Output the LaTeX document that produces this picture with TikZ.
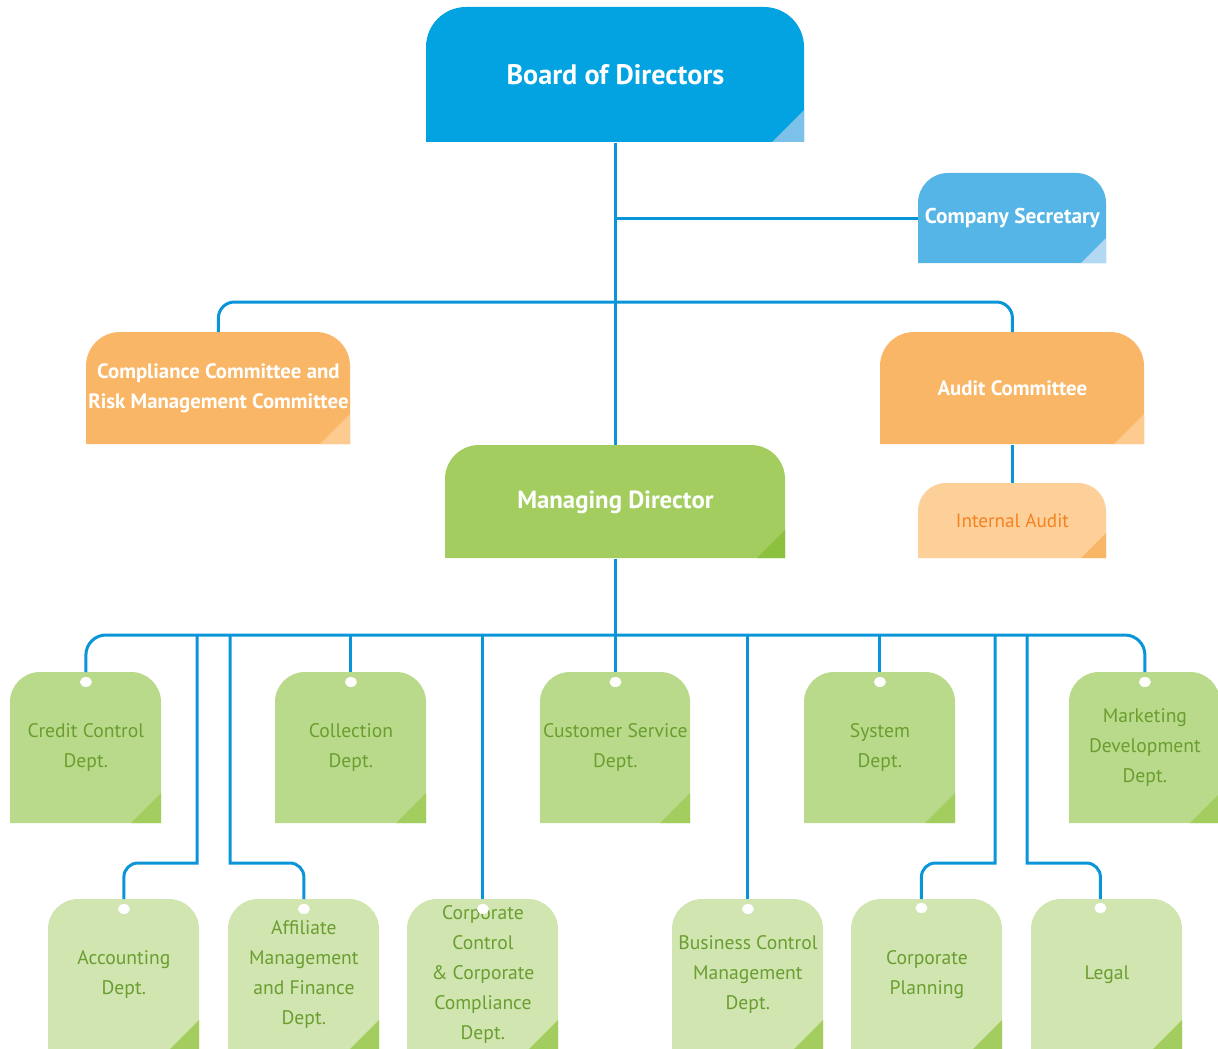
\documentclass[tikz,border=0pt]{standalone}
\usepackage{fontspec}
\setmainfont{PT Sans}
\usetikzlibrary{calc}
\definecolor{cBoard}{HTML}{02A3E0}
\definecolor{cBoardF}{HTML}{7CC1EA}
\definecolor{cSec}{HTML}{55B5E6}
\definecolor{cSecF}{HTML}{B3D8F2}
\definecolor{cOr}{HTML}{F9B666}
\definecolor{cOrF}{HTML}{FDCB8F}
\definecolor{cIA}{HTML}{FDD09A}
\definecolor{cIAT}{HTML}{F58220}
\definecolor{cMD}{HTML}{A3CD5F}
\definecolor{cMDF}{HTML}{8CC03F}
\definecolor{cD1}{HTML}{B9DA8A}
\definecolor{cD2}{HTML}{D0E5B0}
\definecolor{cDF}{HTML}{A3CD5F}
\definecolor{cDT}{HTML}{6A9E30}
\definecolor{cConn}{HTML}{0A95D9}
\tikzset{
  bfill/.store in=\bfill, bfold/.store in=\bfold,
  brad/.store in=\brad, bfs/.store in=\bfs,
  boardst/.style={bfill=cBoard, bfold=cBoardF, brad=20pt, bfs=32, text=white, font=\bfseries\fontsize{14.1}{16}\selectfont},
  secst/.style={bfill=cSec, bfold=cSecF, brad=15pt, bfs=25, text=white, font=\bfseries\fontsize{10.7}{14}\selectfont},
  orst/.style={bfill=cOr, bfold=cOrF, brad=17pt, bfs=30, text=white, font=\bfseries\fontsize{10.4}{14.8}\selectfont},
  mdst/.style={bfill=cMD, bfold=cMDF, brad=17pt, bfs=28, text=white, font=\bfseries\fontsize{12.4}{15}\selectfont},
  iast/.style={bfill=cIA, bfold=cOr, brad=14pt, bfs=25, text=cIAT, font=\fontsize{9.6}{14}\selectfont},
  dAst/.style={bfill=cD1, bfold=cDF, brad=15pt, bfs=30, text=cDT, font=\fontsize{9.8}{15}\selectfont},
  dBst/.style={bfill=cD2, bfold=cDF, brad=15pt, bfs=30, text=cDT, font=\fontsize{9.8}{15}\selectfont},
  conn/.style={draw=cConn, line width=1.5pt},
  hole/.style={fill=white},
}
\newcommand\obox[7]{%
  \begin{scope}[#1]
    \pgfmathsetmacro\bw{(#5-#3)*0.5}%
    \pgfmathsetmacro\bh{(#6-#4)*0.5}%
    \fill[fill=\bfill] (#3,#6) [rounded corners=\brad] -- (#3,#4) -- (#5,#4) [sharp corners] -- (#5,#6) -- cycle;
    \fill[fill=\bfold] (#5,#6) -- ++(-\bfs,0) -- ++(\bfs,-\bfs) -- cycle;
    \node[minimum width=\bw pt, minimum height=\bh pt, inner sep=0pt, anchor=north west, align=center] (#2) at (#3,#4) {#7};
  \end{scope}}
\begin{document}
\begin{tikzpicture}[x=0.5pt, y=-0.5pt]
\useasboundingbox (0,0) rectangle (1218,1048);
% boxes
\obox{boardst}{board}{426}{7}{804}{142}{Board of Directors}
\obox{secst}{sec}{918}{173}{1106}{263}{Company Secretary}
\obox{orst}{comp}{86}{332}{350}{444}{Compliance Committee and\\Risk Management Committee}
\obox{orst}{audit}{880}{332}{1144}{444}{Audit Committee}
\obox{mdst}{md}{445}{445}{785}{558}{Managing Director}
\obox{iast}{ia}{918}{483}{1106}{558}{Internal Audit}
\obox{dAst}{credit}{10}{672}{161}{823}{Credit Control\\Dept.}
\obox{dAst}{collection}{275}{672}{426}{823}{Collection\\Dept.}
\obox{dAst}{custserv}{540}{672}{690}{823}{Customer Service\\Dept.}
\obox{dAst}{system}{804}{672}{955}{823}{System\\Dept.}
\obox{dAst}{marketing}{1069}{672}{1220}{823}{Marketing\\Development\\Dept.}
\obox{dBst}{accounting}{48}{899}{199}{1050}{Accounting\\Dept.}
\obox{dBst}{affiliate}{228}{899}{379}{1050}{Affiliate\\Management\\and Finance\\Dept.}
\obox{dBst}{corpctrl}{407}{899}{558}{1050}{Corporate\\Control\\\& Corporate\\Compliance\\Dept.}
\obox{dBst}{bcm}{672}{899}{823}{1050}{Business Control\\Management\\Dept.}
\obox{dBst}{corpplan}{851}{899}{1002}{1050}{Corporate\\Planning}
\obox{dBst}{legal}{1031}{899}{1182}{1050}{Legal}
% connectors
\coordinate (busA) at (615,302);
\coordinate (busB) at (615,635);
\draw[conn] (board.south) -- (md.north);
\draw[conn] (board.south |- sec.west) -- (sec.west);
\draw[conn, rounded corners=8pt] (comp.north) |- (busA) -| (audit.north);
\draw[conn] (audit.south) -- (ia.north);
\draw[conn] (md.south) -- (md.south |- busB);
\draw[conn, rounded corners=10pt] (credit.north) |- (busB) -| (marketing.north);
\foreach \n in {collection, custserv, system, corpctrl, bcm}
  \draw[conn] (\n.north) -- (\n.north |- busB);
\coordinate (kA) at (197,863);
\coordinate (kB) at (230,863);
\coordinate (kC) at (995,863);
\coordinate (kD) at (1027,863);
\draw[conn] (kA |- busB) -- (kA) [rounded corners=7pt] -| (accounting.north);
\draw[conn] (kB |- busB) -- (kB) [rounded corners=7pt] -| (affiliate.north);
\draw[conn] (kC |- busB) -- (kC) [rounded corners=7pt] -| ([xshift=-2.75pt]corpplan.north);
\draw[conn] (kD |- busB) -- (kD) [rounded corners=7pt] -| ([xshift=-3.25pt]legal.north);
% holes
\foreach \n in {credit, collection, custserv, system, marketing, accounting, affiliate, corpctrl, bcm}
  \fill[hole] ([yshift=-5pt]\n.north) ellipse [x radius=3pt, y radius=2.5pt];
\fill[hole] ([xshift=-2.75pt,yshift=-4.5pt]corpplan.north) ellipse [x radius=3pt, y radius=2.5pt];
\fill[hole] ([xshift=-3.25pt,yshift=-4.5pt]legal.north) ellipse [x radius=3pt, y radius=2.5pt];
\end{tikzpicture}
\end{document}
